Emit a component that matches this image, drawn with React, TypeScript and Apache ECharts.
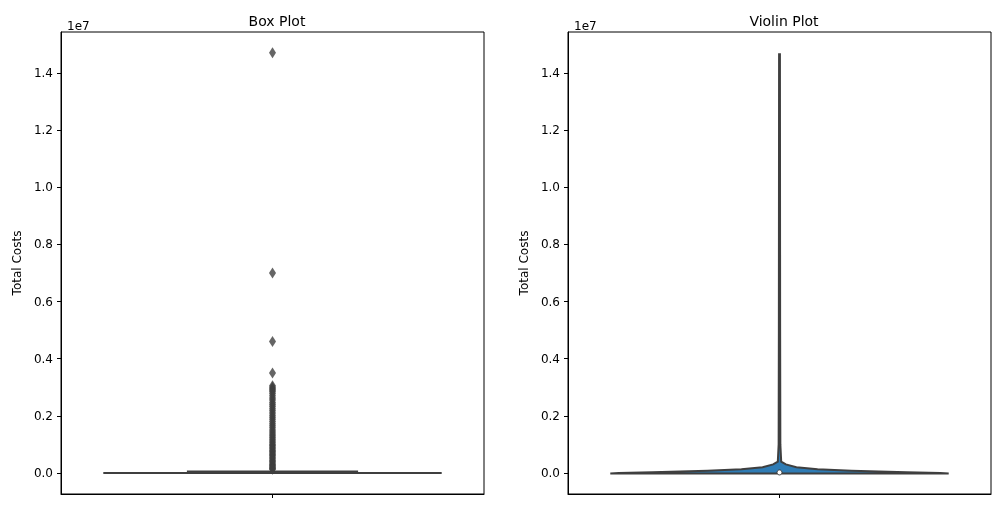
import React, { useEffect, useRef } from "react";
import * as echarts from "echarts";

const yTicks = [0, 2e6, 4e6, 6e6, 8e6, 10e6, 12e6, 14e6];
const boxStats = [0, 5000, 20000, 50000, 120000]; // min, q1, median, q3, max
const outliers = [14.7e6, 7.0e6, 4.6e6, 3.5e6, 3.05e6, 3.0e6, 2.95e6, 2.9e6, 2.85e6, 2.78e6, 2.7e6, 2.62e6, 2.55e6, 2.47e6, 2.4e6, 2.33e6, 2.25e6, 2.18e6, 2.1e6, 2.02e6, 1.95e6, 1.88e6, 1.8e6, 1.72e6, 1.65e6, 1.58e6, 1.5e6, 1.43e6, 1.36e6, 1.3e6, 1.24e6, 1.18e6, 1.12e6, 1.06e6, 1.0e6, 0.95e6, 0.9e6, 0.85e6, 0.8e6, 0.75e6, 0.7e6, 0.65e6, 0.6e6, 0.55e6, 0.5e6, 0.45e6, 0.4e6, 0.35e6, 0.3e6, 0.26e6, 0.22e6, 0.18e6, 0.15e6, 0.13e6];
const violinY = [-0.02e6, 0, 0.03e6, 0.08e6, 0.13e6, 0.2e6, 0.3e6, 0.4e6, 1e6, 5e6, 14.65e6];
const violinHW = [0.4, 0.38, 0.3, 0.17, 0.09, 0.04, 0.015, 0.004, 0.002, 0.0015, 0.001];

const yMin = -0.735e6;
const yMax = 15.43e6;
const font = "DejaVu Sans";

export default function App() {
  const ref = useRef<HTMLDivElement>(null);
  useEffect(() => {
    const chart = echarts.init(ref.current!, null, { renderer: "svg" });
    const yAxisBase = (gi: number) => ({
      type: "value", gridIndex: gi, min: yMin, max: yMax,
      name: "Total Costs", nameLocation: "middle", nameGap: 38,
      nameTextStyle: { fontFamily: font, fontSize: 12, color: "#000" },
      splitLine: { show: false },
      axisLine: { show: true, onZero: false, lineStyle: { color: "#000" } },
      axisTick: { show: true, length: 4, customValues: yTicks, lineStyle: { color: "#000" } },
      axisLabel: { customValues: yTicks, formatter: (v: number) => (v / 1e7).toFixed(1), fontFamily: font, fontSize: 12, color: "#000" },
    });
    const xAxisBase = (gi: number) => ({
      type: "value", gridIndex: gi, min: -0.5, max: 0.5,
      splitLine: { show: false },
      axisLine: { show: true, onZero: false, lineStyle: { color: "#000" } },
      axisTick: { show: true, length: 4, customValues: [0], lineStyle: { color: "#000" } },
      axisLabel: { show: false },
    });
    const violinPts = () => {
      const right = violinY.map((y, i) => [violinHW[i], y]);
      const left = violinY.map((y, i) => [-violinHW[i], y]).reverse();
      return right.concat(left);
    };
    chart.setOption({
      animation: false,
      title: [
        { text: "Box Plot", left: 272, top: 9, textAlign: "center", textStyle: { fontFamily: font, fontSize: 14, fontWeight: "normal", color: "#000" } },
        { text: "Violin Plot", left: 779, top: 9, textAlign: "center", textStyle: { fontFamily: font, fontSize: 14, fontWeight: "normal", color: "#000" } },
        { text: "1e7", left: 62, top: 15, textStyle: { fontFamily: font, fontSize: 12, fontWeight: "normal", color: "#000" } },
        { text: "1e7", left: 569, top: 15, textStyle: { fontFamily: font, fontSize: 12, fontWeight: "normal", color: "#000" } },
      ],
      grid: [
        { left: 61, right: 517, top: 32, bottom: 15, show: true, borderColor: "#000", borderWidth: 1 },
        { left: 568, right: 10, top: 32, bottom: 15, show: true, borderColor: "#000", borderWidth: 1 },
      ],
      xAxis: [xAxisBase(0), xAxisBase(1)],
      yAxis: [yAxisBase(0), yAxisBase(1)],
      series: [
        {
          type: "custom", xAxisIndex: 0, yAxisIndex: 0, data: [[0, ...boxStats]],
          renderItem: (params: any, api: any) => {
            const s = [api.value(1), api.value(2), api.value(3), api.value(4), api.value(5)];
            const a = api.coord([-0.4, s[0]]); const b = api.coord([0.4, s[0]]);
            const p1 = api.coord([-0.2, s[3]]); const p2 = api.coord([0.2, s[1]]);
            const m1 = api.coord([-0.2, s[2]]); const m2 = api.coord([0.2, s[2]]);
            const w1 = api.coord([0, s[3]]); const w2 = api.coord([0, s[4]]);
            const st = { stroke: "#3f3f3f", lineWidth: 2 };
            return {
              type: "group", children: [
                { type: "line", shape: { x1: a[0], y1: a[1], x2: b[0], y2: b[1] }, style: st },
                { type: "rect", shape: { x: p1[0], y: p1[1], width: p2[0] - p1[0], height: Math.max(p2[1] - p1[1], 1) }, style: { fill: "#3274a1", stroke: "#3f3f3f", lineWidth: 2 } },
                { type: "line", shape: { x1: m1[0], y1: m1[1], x2: m2[0], y2: m2[1] }, style: st },
                { type: "line", shape: { x1: w1[0], y1: w1[1], x2: w2[0], y2: w2[1] }, style: st },
              ],
            };
          },
        },
        {
          type: "scatter", xAxisIndex: 0, yAxisIndex: 0, symbol: "diamond", symbolSize: [7, 11],
          itemStyle: { color: "#3f3f3f" }, data: outliers.map((v) => [0, v]),
        },
        {
          type: "custom", xAxisIndex: 1, yAxisIndex: 1, data: [[0, 0]],
          renderItem: (params: any, api: any) => {
            const pts = violinPts().map((p) => api.coord(p));
            const dot = api.coord([0, boxStats[2]]);
            return {
              type: "group", children: [
                { type: "polygon", shape: { points: pts }, style: { fill: "#2f7cb5", stroke: "#3f3f3f", lineWidth: 2 } },
                { type: "circle", shape: { cx: dot[0], cy: dot[1], r: 2.5 }, style: { fill: "#fff", stroke: "#3f3f3f", lineWidth: 1 } },
              ],
            };
          },
        },
      ],
    });
    return () => chart.dispose();
  }, []);
  return <div ref={ref} style={{ position: "fixed", left: 0, top: 0, width: 1001, height: 509 }} />;
}
